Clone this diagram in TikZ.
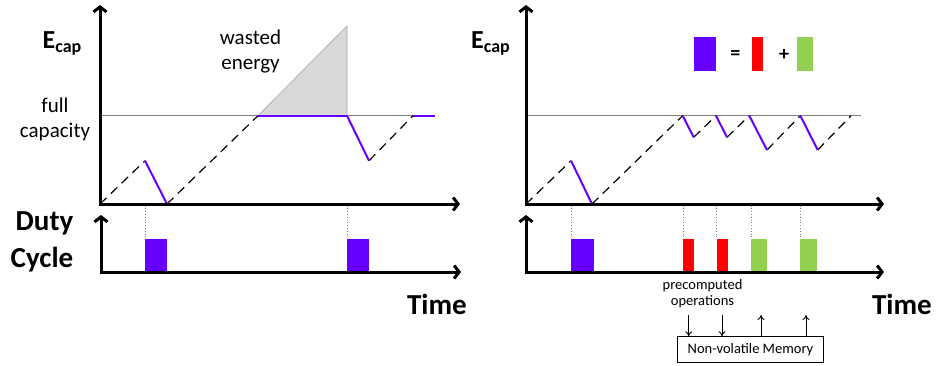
\documentclass[tikz,border=0pt]{standalone}
\usepackage{fontspec}
\setmainfont{Carlito}
\usetikzlibrary{positioning, arrows.meta}
\definecolor{burst}{HTML}{6600FF}
\definecolor{precomp}{HTML}{FF0000}
\definecolor{restore}{HTML}{92D050}
\definecolor{waste}{HTML}{D9D9D9}
\definecolor{rule}{HTML}{7F7F7F}
\newcommand{\Ecap}{\fontsize{26}{30}\selectfont\bfseries E\raisebox{-4pt}{\fontsize{18}{20}\selectfont cap}}

\begin{document}
\begin{tikzpicture}[x=1pt, y=-1pt, inner sep=0pt,
  axis/.style={line width=3pt, line join=miter,
    {Straight Barb[length=5pt, width=13pt]}-{Straight Barb[length=5pt, width=13pt]}},
  full/.style={rule, line width=1.3pt},
  charge/.style={black, line width=1.2pt, dash pattern=on 9pt off 6pt},
  spend/.style={burst, line width=2pt},
  sync/.style={rule, line width=0.8pt, dotted},
  lbl/.style={font=\fontsize{21}{25}\selectfont, align=center},
  big/.style={font=\fontsize{29}{37}\selectfont\bfseries},
  small/.style={font=\fontsize{14.5}{15.5}\selectfont, align=center},
  membox/.style={draw, line width=0.9pt, minimum width=145.6pt, minimum height=25.6pt, font=\fontsize{14.5}{16}\selectfont},
  memarr/.style={-{To[length=5pt, width=7pt]}, line width=0.9pt}
]
  \useasboundingbox (0,0) rectangle (936,365);

  % left: without precomputation
  \draw[full] (100,115.7) -- (413,115.7);
  \coordinate (a0) at (100,204);   \coordinate (a1) at (145,160.7);
  \coordinate (a2) at (167,204);   \coordinate (a3) at (258,115.7);
  \coordinate (a4) at (347,115.7); \coordinate (a5) at (369,160.7);
  \coordinate (a6) at (413,115.7); \coordinate (a7) at (435,115.7);
  \coordinate (peak) at (347,26);
  \fill[waste, draw=rule!70, line width=0.6pt] (a3) -- (peak) -- (a4) -- cycle;
  \foreach \a/\b in {a0/a1, a2/a3, a5/a6} \draw[charge] (\a) -- (\b);
  \foreach \a/\b in {a1/a2, a3/a4, a4/a5, a6/a7} \draw[spend] (\a) -- (\b);
  \draw[axis] (100,5) -- (100,204) -- (460,204);

  \node[anchor=base west] (ecapL) at (42.5,48.3) {\Ecap};
  \node[lbl] (fullcap) at (55,119) {full\\capacity};
  \node[lbl] (wasted) at (250.5,52) {wasted\\energy};

  \foreach \x in {145, 347} \draw[sync] (\x,205.5) -- (\x,239);
  \foreach \l/\r in {145/167, 347/369} \fill[burst] (\l,239) rectangle (\r,272);
  \draw[axis] (101,215) -- (101,272) -- (461,272);
  \node[big, align=right, anchor=east] (duty) at (73.5,242) {Duty\\Cycle};
  \node[big, anchor=base east] (timeL) at (467,314.3) {Time};

  % right: with precomputation
  \draw[full] (526,115.7) -- (861,115.7);
  \coordinate (b0) at (526,204);    \coordinate (b1) at (571,160.7);
  \coordinate (b2) at (592,204);    \coordinate (b3) at (682.7,115.7);
  \coordinate (b4) at (693.7,137.3); \coordinate (b5) at (716,115.7);
  \coordinate (b6) at (727,137.3);  \coordinate (b7) at (749.3,115.7);
  \coordinate (b8) at (767,150);    \coordinate (b9) at (800.3,115.7);
  \coordinate (b10) at (817.7,150); \coordinate (b11) at (851,115.7);
  \foreach \a/\b in {b0/b1, b2/b3, b4/b5, b6/b7, b8/b9, b10/b11} \draw[charge] (\a) -- (\b);
  \foreach \a/\b in {b1/b2, b3/b4, b5/b6, b7/b8, b9/b10} \draw[spend] (\a) -- (\b);
  \draw[axis] (526,5) -- (526,204) -- (884,204);
  \node[anchor=base west] (ecapR) at (471,48.3) {\Ecap};

  % legend
  \fill[burst] (693.7,37.3) rectangle (716,71);
  \node[font=\fontsize{20}{24}\selectfont\bfseries] (eq) at (735.3,55) {=};
  \fill[precomp] (752,37.3) rectangle (762.7,71);
  \node[font=\fontsize{20}{24}\selectfont\bfseries] (plus) at (784,55) {+};
  \fill[restore] (797,37.3) rectangle (813.3,71);

  \foreach \x in {571.3, 683, 716.7, 751, 800.3} \draw[sync] (\x,205.5) -- (\x,239);
  \fill[burst] (571.3,239) rectangle (593.7,272);
  \foreach \l/\r in {683/693.7, 716.7/727.7} \fill[precomp] (\l,239) rectangle (\r,272);
  \foreach \l/\r in {751/767, 800.3/816.7} \fill[restore] (\l,239) rectangle (\r,272);
  \draw[axis] (526,215) -- (526,272) -- (884,272);
  \node[big, anchor=base east] (timeR) at (932,314.3) {Time};

  \node[small] (precomp) at (702.5,293.5) {precomputed\\operations};
  \node[membox] (nvm) at (750.5,349.5) {Non-volatile Memory};
  \coordinate (load1) at (688.7,315);  \coordinate (load2) at (722,315);
  \coordinate (save1) at (761,315);    \coordinate (save2) at (806,315);
  \foreach \p in {load1, load2} \draw[memarr] (\p) -- (\p |- nvm.north);
  \foreach \p in {save1, save2} \draw[memarr] (\p |- nvm.north) -- (\p);
\end{tikzpicture}
\end{document}
